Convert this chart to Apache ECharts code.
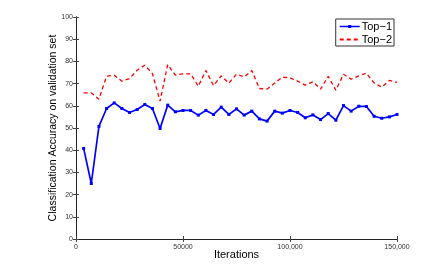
<!DOCTYPE html>
<html><head><meta charset="utf-8">
<script src="https://cdn.jsdelivr.net/npm/echarts@6/dist/echarts.min.js"></script>
<style>html,body{margin:0;padding:0;background:#fff}#c{width:436px;height:271px}</style>
</head><body><div id="c"></div>
<script>
var iterations = [3571,7143,10714,14286,17857,21429,25000,28571,32143,35714,39286,42857,46429,50000,53571,57143,60714,64286,67857,71429,75000,78571,82143,85714,89286,92857,96429,100000,103571,107143,110714,114286,117857,121429,125000,128571,132143,135714,139286,142857,146429,150000];
var top1 = [40.8,25.0,50.7,58.8,61.3,58.8,57.0,58.3,60.6,58.8,49.8,60.3,57.3,57.9,57.9,55.8,57.9,56.1,59.4,56.1,58.6,55.8,57.6,54.1,53.1,57.6,56.7,57.9,57.0,54.6,55.9,53.8,56.5,53.5,60.1,57.6,59.8,59.7,55.3,54.4,55.0,56.1];
var top2 = [65.8,65.8,63.0,73.3,73.8,71.1,72.3,76.0,78.3,74.5,62.1,78.6,73.8,74.4,74.4,68.8,75.9,69.1,73.5,70.2,74.3,73.0,75.9,67.8,67.5,70.3,72.9,72.6,71.1,69.3,70.8,67.5,73.3,67.0,74.2,72.0,73.5,74.7,70.3,68.4,71.4,70.5];
var xTickLabels = {0:'0',50000:'50000',100000:'100,000',150000:'150,000'};
var seriesNames = ['Top\u22121','Top\u22122'];

function pairs(xs, ys){ return xs.map(function(x,i){return [x, ys[i]];}); }
var corners = 'M0,0 L0.05,0 L0.05,0.05 Z M20,10 L19.95,10 L19.95,9.95 Z ';
var iconSolid = 'path://' + corners + 'M0,4.2 L20,4.2 L20,5.8 L0,5.8 Z M8.5,3.5 L11.5,3.5 L11.5,6.5 L8.5,6.5 Z';
var chart = echarts.init(document.getElementById('c'), null, {renderer:'canvas'});
var axisLine = {show:true, lineStyle:{color:'#222', width:1}};
var tickStyle = {show:true, inside:true, length:3, lineStyle:{color:'#444'}};
chart.setOption({
  animation:false,
  backgroundColor:'#fff',
  color:['#0000ff','#ff0000'],
  textStyle:{fontFamily:'Liberation Sans'},
  grid:{left:76, right:39, top:17, bottom:32, show:false},
  legend:{
    right:42, top:19, orient:'vertical', itemGap:2, itemWidth:20, itemHeight:10,
    backgroundColor:'#fff', borderColor:'#333', borderWidth:1, padding:[2,2,1,3],
    textStyle:{fontSize:11, color:'#000', fontFamily:'Liberation Sans', padding:[0,0,0,-3]},
    data:[
      {name:seriesNames[0], icon:iconSolid, itemStyle:{color:'#0000ff', borderWidth:0}},
      {name:seriesNames[1], itemStyle:{opacity:0}}
    ]
  },
  xAxis:[{
    type:'value', min:0, max:150000, interval:50000, position:'bottom',
    name:'Iterations', nameLocation:'middle', nameGap:10, nameMoveOverlap:false,
    nameTextStyle:{fontSize:11, color:'#000', fontFamily:'Liberation Sans'},
    axisLine:axisLine, axisTick:tickStyle, splitLine:{show:false},
    axisLabel:{fontSize:7, color:'#333', margin:5, formatter:function(v){return xTickLabels[v]!==undefined?xTickLabels[v]:'';}}
  },{
    type:'value', min:0, max:150000, interval:50000, position:'top',
    axisLine:axisLine, axisTick:tickStyle, axisLabel:{show:false}, splitLine:{show:false}
  }],
  yAxis:[{
    type:'value', min:0, max:100, interval:10, position:'left',
    name:'Classification Accuracy on validation set', nameLocation:'middle', nameGap:17, nameMoveOverlap:false,
    nameTextStyle:{fontSize:10.5, color:'#000', fontFamily:'Liberation Sans'},
    axisLine:axisLine, axisTick:tickStyle, splitLine:{show:false},
    axisLabel:{fontSize:7, color:'#333', margin:3}
  },{
    type:'value', min:0, max:100, interval:10, position:'right',
    axisLine:axisLine, axisTick:tickStyle, axisLabel:{show:false}, splitLine:{show:false}
  }],
  series:[{
    name:seriesNames[0], type:'line', data:pairs(iterations, top1), color:'#0000ff',
    symbol:'rect', symbolSize:3, showSymbol:true,
    lineStyle:{color:'#0000ff', width:1.7}, itemStyle:{color:'#0000ff'}
  },{
    name:seriesNames[1], type:'line', data:pairs(iterations, top2), color:'#ff0000',
    symbol:'none',
    lineStyle:{color:'#ff0000', width:1.3, type:[4,3]}, itemStyle:{color:'#ff0000'}
  }]
});
</script></body></html>
